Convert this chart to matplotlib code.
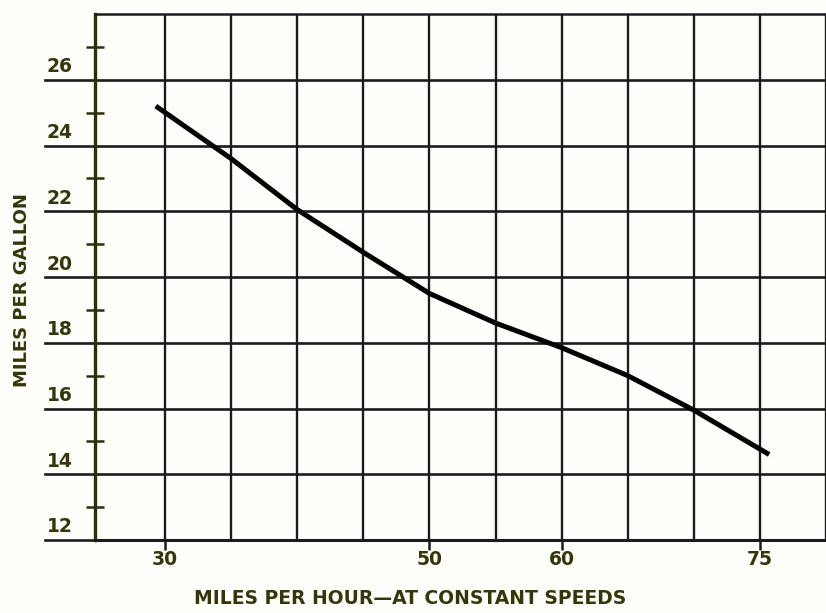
import matplotlib.pyplot as plt
from matplotlib.transforms import ScaledTranslation

# fuel economy at steady speeds
speed_mph = [29.3, 35, 40, 45, 50, 55, 60, 65, 70, 75.7]
miles_per_gallon = [25.2, 23.6, 22.05, 20.75, 19.5, 18.6, 17.85, 17.0, 15.95, 14.6]

x_tick_values = [30, 50, 60, 75]
x_grid_values = [30, 35, 40, 45, 50, 55, 60, 65, 70, 75, 80]
y_label_values = [12, 14, 16, 18, 20, 22, 24, 26]
y_minor_values = [13, 15, 17, 19, 21, 23, 25, 27]

ink = '#36360c'
line_col = '#1c1c1c'
font = 'DejaVu Sans'

fig = plt.figure(figsize=(8.26, 6.13), dpi=100)
fig.patch.set_facecolor('#fefefa')
ax = fig.add_axes([95 / 826, 1 - 540 / 613, (826 - 95) / 826, (540 - 14) / 613])
ax.set_facecolor('#fefefa')
ax.set_xlim(24.7, 80.0)
ax.set_ylim(12, 28)

# grid
for xv in x_grid_values:
    ax.axvline(xv, color=line_col, lw=1.7, zorder=1)
for yv in y_label_values:
    ax.axhline(yv, xmin=-50 / 731, xmax=1, color=line_col, lw=1.9,
               clip_on=False, zorder=1)

ax.plot(speed_mph, miles_per_gallon, color='black', lw=3.6,
        solid_capstyle='butt', zorder=3)

ax.spines['right'].set_visible(False)
ax.spines['top'].set_color(line_col)
ax.spines['top'].set_linewidth(1.8)
ax.spines['bottom'].set_color(line_col)
ax.spines['bottom'].set_linewidth(2.2)
ax.spines['left'].set_color('#2e2e08')
ax.spines['left'].set_linewidth(2.4)

# y axis: labels sit just above the even lines, short ticks at odd values
ax.set_yticks(y_label_values)
ax.set_yticklabels([str(v) for v in y_label_values])
ax.set_yticks(y_minor_values, minor=True)
ax.tick_params(axis='y', which='major', length=0, pad=16)
ax.tick_params(axis='y', which='minor', direction='inout', length=13,
               width=1.8, color='#2e2e08')
lift = ScaledTranslation(0, 15 / 100, fig.dpi_scale_trans)
for lab in ax.get_yticklabels():
    lab.set_transform(lab.get_transform() + lift)
    lab.set_fontfamily(font)
    lab.set_fontweight('bold')
    lab.set_fontsize(13.5)
    lab.set_color(ink)

ax.set_xticks(x_tick_values)
ax.set_xticklabels([str(v) for v in x_tick_values])
ax.tick_params(axis='x', direction='out', length=7, width=1.8,
               color=line_col, pad=0.5)
for lab in ax.get_xticklabels():
    lab.set_fontfamily(font)
    lab.set_fontweight('bold')
    lab.set_fontsize(13.5)
    lab.set_color(ink)

fig.text(410 / 826, 1 - 598 / 613, 'MILES PER HOUR—AT CONSTANT SPEEDS',
         ha='center', va='center', fontsize=13.5, fontweight='bold',
         family=font, color=ink)
fig.text(22 / 826, 1 - 290 / 613, 'MILES PER GALLON', rotation=90,
         ha='center', va='center', fontsize=13, fontweight='bold',
         family=font, color=ink)

fig.savefig('out.png', dpi=100, facecolor=fig.get_facecolor())
